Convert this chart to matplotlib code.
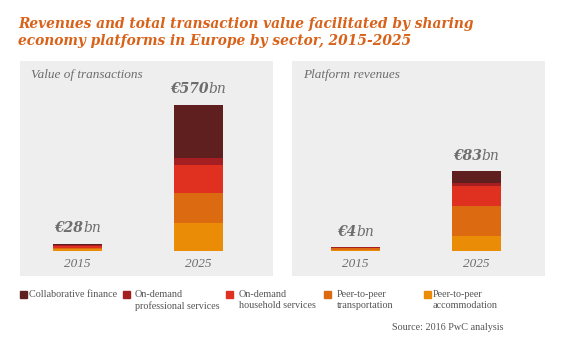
import numpy as np
import matplotlib.pyplot as plt
from matplotlib.patches import Rectangle

# data (EUR bn), bottom segment first
sectors = ['Peer-to-peer\naccommodation', 'Peer-to-peer\ntransportation',
           'On-demand\nhousehold services', 'On-demand\nprofessional services',
           'Collaborative finance']
colors = ['#eb8c06', '#db6a10', '#e03020', '#a51e22', '#5e1f1e']
years = ['2015', '2025']

transactions_2015 = [6, 6, 6, 5, 5]
transactions_2025 = [110, 114, 112, 27, 207]
revenues_2015 = [1.0, 1.6, 0.6, 0.3, 0.5]
revenues_2025 = [15, 32, 21, 3, 12]

totals_tx = ['€28', '€570']
totals_rev = ['€4', '€83']

W, H = 570, 351
fig = plt.figure(figsize=(W / 100, H / 100), dpi=100)
renderer = fig.canvas.get_renderer()

gray_txt = '#6d6d6d'
serif = 'DejaVu Serif'
times = 'Liberation Serif'


def total_label(ax, x, y, num):
    # bold number + lighter "bn", centred together above the bar
    t1 = ax.annotate(num, (x, y), xytext=(0, 6), textcoords='offset points',
                     ha='left', va='bottom', fontsize=10, fontweight='bold',
                     fontstyle='italic', family=serif, color=gray_txt)
    t2 = ax.annotate('bn', (x, y), xytext=(0, 6), textcoords='offset points',
                     ha='left', va='bottom', fontsize=10, fontstyle='italic',
                     family=serif, color=gray_txt)
    w1 = t1.get_window_extent(renderer).width * 72 / fig.dpi
    w2 = t2.get_window_extent(renderer).width * 72 / fig.dpi
    t1.set_position((-(w1 + w2) / 2, 6))
    t2.set_position((-(w1 + w2) / 2 + w1, 6))


def panel(x0, title, data, labels, ylim, xlim):
    ax = fig.add_axes([x0 / W, (H - 276) / H, 253 / W, 215 / H])
    ax.set_facecolor('#eeeeee')
    for s in ax.spines.values():
        s.set_visible(False)
    ax.set_xticks([])
    ax.set_yticks([])
    ax.set_xlim(*xlim)
    ax.set_ylim(*ylim)
    for i, vals in enumerate(data):
        bottom = 0
        for v, c in zip(vals, colors):
            ax.bar(i, v, bottom=bottom, width=0.41, color=c, linewidth=0)
            bottom += v
        total_label(ax, i, bottom, labels[i])
        ax.annotate(years[i], (i, 0), xytext=(0, -5), textcoords='offset points',
                    ha='center', va='top', fontsize=9.5, fontstyle='italic',
                    family=times, color=gray_txt)
    ax.text(0.044, 0.935, title, transform=ax.transAxes, ha='left', va='center',
            fontsize=9.5, fontstyle='italic', family=times, color=gray_txt)
    return ax


panel(20, 'Value of transactions', [transactions_2015, transactions_2025],
      totals_tx, (-98, 741), (-0.478, 1.618))
panel(292, 'Platform revenues', [revenues_2015, revenues_2025],
      totals_rev, (-26.3, 197.9), (-0.529, 1.571))

# title
fig.text(18 / W, 1 - 17 / H, 'Revenues and total transaction value facilitated by sharing\n'
         'economy platforms in Europe by sector, 2015-2025',
         ha='left', va='top', fontsize=9.9, fontweight='bold', fontstyle='italic',
         family=serif, color='#d9621a', linespacing=1.3)

# legend (drawn left to right starting with collaborative finance)
box_x = [20, 123, 226, 324, 424]
text_x = [29, 135, 239, 337, 433]
for bx, tx, name, c in zip(box_x, text_x, sectors[::-1], colors[::-1]):
    fig.patches.append(Rectangle((bx / W, 1 - 298 / H), 7 / W, 7 / H,
                                 transform=fig.transFigure, color=c))
    fig.text(tx / W, 1 - 290 / H, name, ha='left', va='top', fontsize=7.3,
             family=times, color='#555555', linespacing=1.35)

fig.text(503 / W, 1 - 328 / H, 'Source: 2016 PwC analysis', ha='right', va='center',
         fontsize=7.3, family=times, color='#555555')

fig.savefig('out.png', dpi=100)
